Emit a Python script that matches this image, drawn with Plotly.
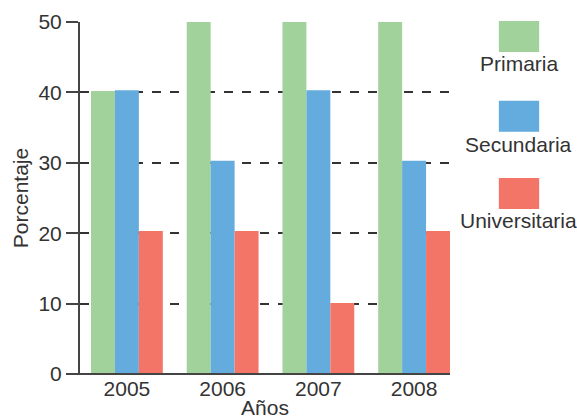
import plotly.graph_objects as go

years = ["2005", "2006", "2007", "2008"]
primaria = [40.2, 50.3, 50.3, 50.3]
secundaria = [40.3, 30.3, 40.3, 30.3]
universitaria = [20.3, 20.3, 10.1, 20.3]
series_names = ["Primaria", "Secundaria", "Universitaria"]
colors = ["#a1d29c", "#64abde", "#f27568"]
y_ticks = [0, 10, 20, 30, 40, 50]

FONT = "Liberation Sans, Arial, sans-serif"
TXT = "#333333"
FS = 21

fig = go.Figure()
for name, vals, col in zip(series_names, [primaria, secundaria, universitaria], colors):
    fig.add_trace(go.Bar(x=years, y=vals, name=name, marker_color=col,
                         marker_line_width=0, cliponaxis=False, showlegend=False))

# custom legend: swatch above label
leg_y = [(1.003, 0.915, 0.881), (0.776, 0.688, 0.651), (0.557, 0.469, 0.435)]
for (y1, y0, ty), name, col in zip(leg_y, series_names, colors):
    fig.add_shape(type="rect", xref="paper", yref="paper", x0=1.132, x1=1.241,
                  y0=y0, y1=y1, fillcolor=col, line_width=0)
    fig.add_annotation(xref="paper", yref="paper", x=1.186, y=ty, text=name,
                       showarrow=False, xanchor="center", yanchor="middle",
                       font=dict(family=FONT, size=FS, color=TXT))

# x-axis baseline extending under the y ticks
fig.add_shape(type="line", xref="paper", yref="paper", x0=-0.033, x1=1.0,
              y0=0, y1=0, line=dict(color="#444444", width=2), layer="above")

fig.update_layout(
    width=577, height=419,
    margin=dict(l=80, r=127, t=22, b=45),
    paper_bgcolor="white", plot_bgcolor="white",
    barmode="group", bargap=0.25, bargroupgap=0,
    font=dict(family=FONT, color=TXT),
    xaxis=dict(type="category", range=[-0.49, 3.375], showgrid=False,
               showline=False, ticks="", zeroline=False, automargin=False,
               tickfont=dict(size=FS, color=TXT),
               title=dict(text="Años", font=dict(size=FS, color=TXT), standoff=0)),
    yaxis=dict(range=[0, 50], tickvals=y_ticks, showline=True, linecolor="#444444",
               linewidth=2, ticks="outside", ticklen=12, tickcolor="#444444",
               tickwidth=2, zeroline=False, showgrid=True, gridcolor="#333333",
               griddash="dash", gridwidth=1.5, automargin=False,
               tickfont=dict(size=FS, color=TXT),
               title=dict(text="Porcentaje", font=dict(size=FS, color=TXT), standoff=4)),
)

fig.write_html("out.html")
